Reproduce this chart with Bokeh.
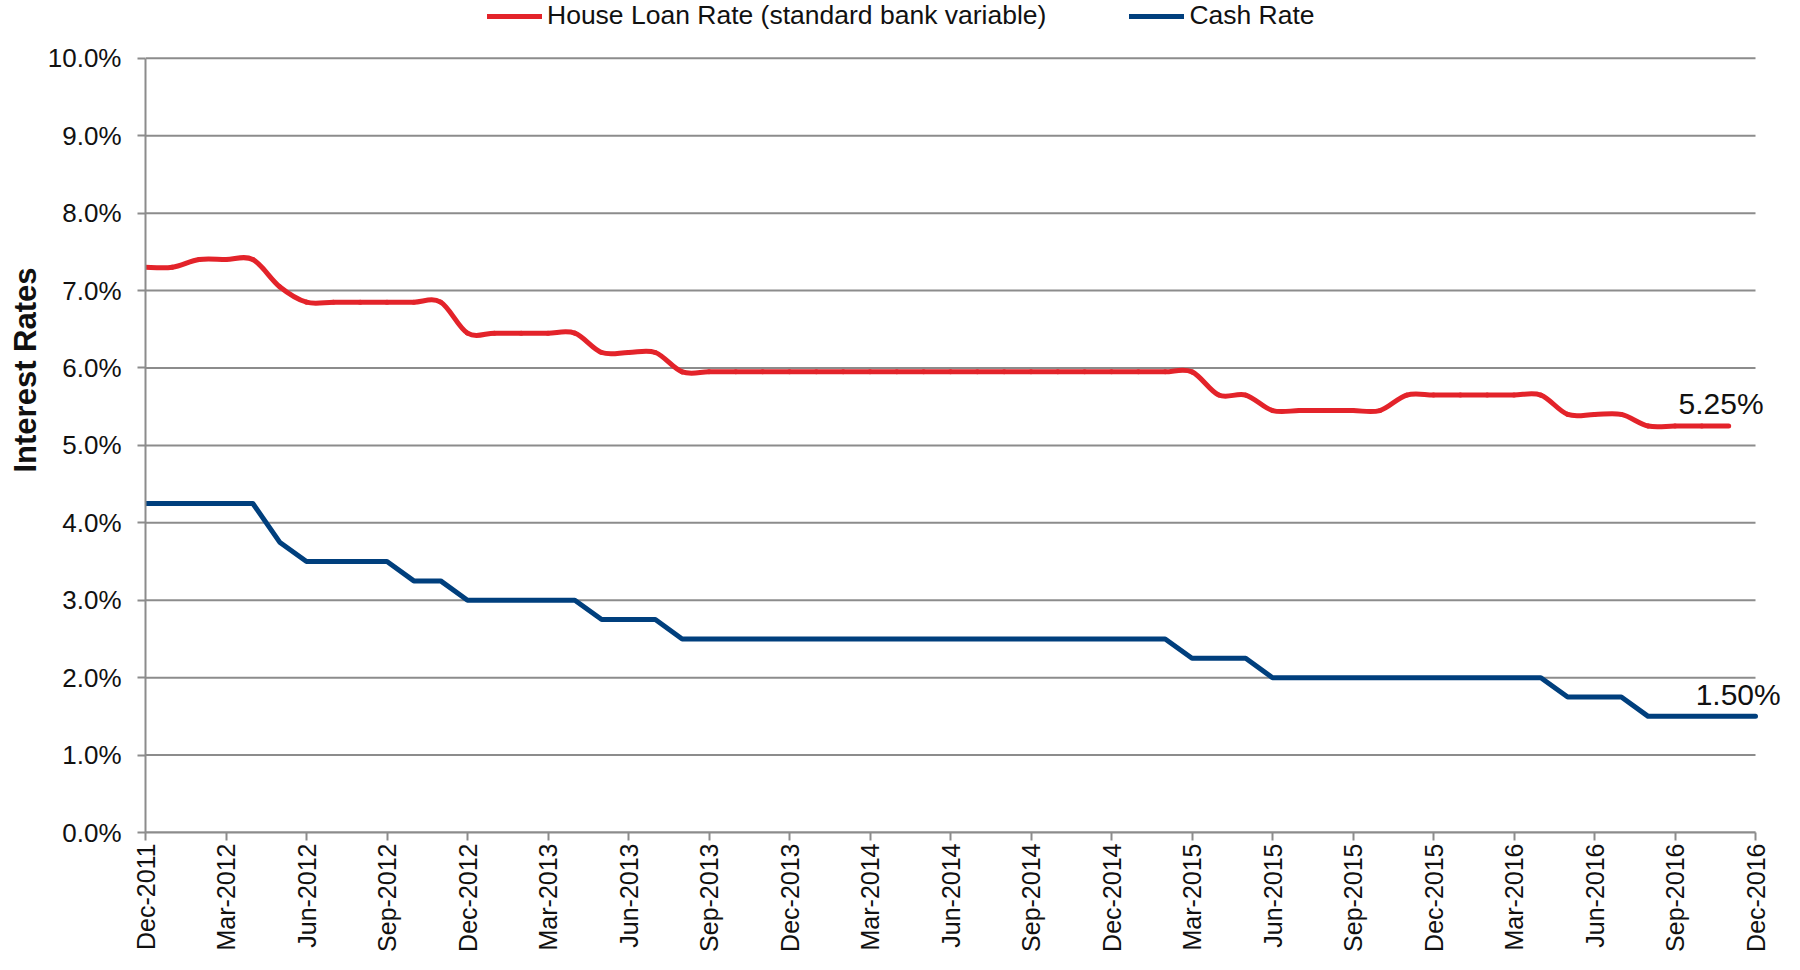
import math
from bokeh.plotting import figure
from bokeh.models import (ColumnDataSource, Range1d, FixedTicker, Legend,
                          LegendItem, Label, Title, PrintfTickFormatter)
from bokeh.embed import file_html
from bokeh.resources import INLINE

# ---------------- data ----------------
months = [
    "Dec-2011",
    "Jan-2012", "Feb-2012", "Mar-2012", "Apr-2012", "May-2012", "Jun-2012",
    "Jul-2012", "Aug-2012", "Sep-2012", "Oct-2012", "Nov-2012", "Dec-2012",
    "Jan-2013", "Feb-2013", "Mar-2013", "Apr-2013", "May-2013", "Jun-2013",
    "Jul-2013", "Aug-2013", "Sep-2013", "Oct-2013", "Nov-2013", "Dec-2013",
    "Jan-2014", "Feb-2014", "Mar-2014", "Apr-2014", "May-2014", "Jun-2014",
    "Jul-2014", "Aug-2014", "Sep-2014", "Oct-2014", "Nov-2014", "Dec-2014",
    "Jan-2015", "Feb-2015", "Mar-2015", "Apr-2015", "May-2015", "Jun-2015",
    "Jul-2015", "Aug-2015", "Sep-2015", "Oct-2015", "Nov-2015", "Dec-2015",
    "Jan-2016", "Feb-2016", "Mar-2016", "Apr-2016", "May-2016", "Jun-2016",
    "Jul-2016", "Aug-2016", "Sep-2016", "Oct-2016", "Nov-2016", "Dec-2016",
]

# House loan rate (standard bank variable), % — Dec-2011 .. Nov-2016
house_loan_rate = [
    7.30, 7.30, 7.40, 7.40, 7.40, 7.05, 6.85, 6.85, 6.85, 6.85,
    6.85, 6.85, 6.45, 6.45, 6.45, 6.45, 6.45, 6.20, 6.20, 6.20,
    5.95, 5.95, 5.95, 5.95, 5.95, 5.95, 5.95, 5.95, 5.95, 5.95,
    5.95, 5.95, 5.95, 5.95, 5.95, 5.95, 5.95, 5.95, 5.95, 5.95,
    5.65, 5.65, 5.45, 5.45, 5.45, 5.45, 5.45, 5.65, 5.65, 5.65,
    5.65, 5.65, 5.65, 5.40, 5.40, 5.40, 5.25, 5.25, 5.25, 5.25,
]

# Cash rate, % — Dec-2011 .. Dec-2016
cash_rate = [
    4.25, 4.25, 4.25, 4.25, 4.25, 3.75, 3.50, 3.50, 3.50, 3.50,
    3.25, 3.25, 3.00, 3.00, 3.00, 3.00, 3.00, 2.75, 2.75, 2.75,
    2.50, 2.50, 2.50, 2.50, 2.50, 2.50, 2.50, 2.50, 2.50, 2.50,
    2.50, 2.50, 2.50, 2.50, 2.50, 2.50, 2.50, 2.50, 2.50, 2.25,
    2.25, 2.25, 2.00, 2.00, 2.00, 2.00, 2.00, 2.00, 2.00, 2.00,
    2.00, 2.00, 2.00, 1.75, 1.75, 1.75, 1.50, 1.50, 1.50, 1.50,
    1.50,
]

series_names = ["House Loan Rate (standard bank variable)", "Cash Rate"]
end_labels = ["5.25%", "1.50%"]
y_ticks = [0, 1, 2, 3, 4, 5, 6, 7, 8, 9, 10]
y_title = "Interest  Rates"

RED = "#E3232A"
BLUE = "#003F7D"
GRID = "#8C8C8C"
INK = "#111111"
FONT = "Liberation Sans"

# ---------------- layout (pixels) ----------------
W, H = 1784, 954
LEFT, BOTTOM = 145, 119            # frame left edge / space under frame
AXIS_X_END_PX = 1755               # where the last month sits
AXIS_Y_TOP_PX = 58                 # where 10 % sits

x_first, x_last = 0, len(months) - 1
y_min, y_max = y_ticks[0], y_ticks[-1]
frame_w = W - LEFT
frame_h = H - BOTTOM
px_per_x = (AXIS_X_END_PX - LEFT) / (x_last - x_first)
px_per_y = (frame_h - AXIS_Y_TOP_PX) / (y_max - y_min)
x_end = x_last + (W - AXIS_X_END_PX) / px_per_x
y_end = y_max + AXIS_Y_TOP_PX / px_per_y


def smooth_source(ys):
    """Bezier segments through the data points (Excel style smoothed line)."""
    xs = list(range(len(ys)))
    n = len(ys)
    d = {k: [] for k in ("x0", "y0", "x1", "y1", "cx0", "cy0", "cx1", "cy1")}
    for i in range(n - 1):
        im, ip = max(i - 1, 0), min(i + 2, n - 1)
        d["x0"].append(xs[i]); d["y0"].append(ys[i])
        d["x1"].append(xs[i + 1]); d["y1"].append(ys[i + 1])
        d["cx0"].append(xs[i] + (xs[i + 1] - xs[im]) / 6.0)
        d["cy0"].append(ys[i] + (ys[i + 1] - ys[im]) / 6.0)
        d["cx1"].append(xs[i + 1] - (xs[ip] - xs[i]) / 6.0)
        d["cy1"].append(ys[i + 1] - (ys[ip] - ys[i]) / 6.0)
    return ColumnDataSource(d)


p = figure(width=W, height=H, output_backend="svg", toolbar_location=None,
           x_range=Range1d(x_first, x_end), y_range=Range1d(y_min, y_end),
           min_border_left=LEFT, min_border_right=0, min_border_top=0,
           min_border_bottom=BOTTOM)
p.outline_line_color = None
p.background_fill_color = "white"
p.border_fill_color = "white"
p.grid.visible = False

# horizontal gridlines, only across the data period
grid_src = ColumnDataSource(dict(x0=[x_first] * len(y_ticks),
                                 x1=[x_last] * len(y_ticks),
                                 y=y_ticks))
p.segment(x0="x0", x1="x1", y0="y", y1="y", source=grid_src,
          line_color=GRID, line_width=2)

# axes
p.xaxis.ticker = FixedTicker(ticks=list(range(x_first, len(months), 3)))
p.xaxis.major_label_overrides = {i: months[i] for i in range(x_first, len(months), 3)}
p.xaxis.major_label_orientation = math.pi / 2
p.xaxis.bounds = (x_first, x_last)
p.yaxis.ticker = FixedTicker(ticks=y_ticks)
p.yaxis.formatter = PrintfTickFormatter(format="%.1f%%")
p.yaxis.bounds = (y_min, y_max)
for ax in (p.xaxis[0], p.yaxis[0]):
    ax.axis_line_color = GRID
    ax.axis_line_width = 2
    ax.major_tick_line_color = GRID
    ax.major_tick_line_width = 2
    ax.major_tick_out = 8
    ax.major_tick_in = 0
    ax.minor_tick_line_color = None
    ax.major_label_text_font = FONT
    ax.major_label_text_color = INK
p.yaxis.major_label_text_font_size = "26px"
p.xaxis.major_label_text_font_size = "25px"
p.yaxis.major_label_standoff = 16
p.xaxis.major_label_standoff = 3

# series
red_src = smooth_source(house_loan_rate)
r_red = p.bezier(x0="x0", y0="y0", x1="x1", y1="y1", cx0="cx0", cy0="cy0",
                 cx1="cx1", cy1="cy1", source=red_src, line_color=RED,
                 line_width=5, line_cap="round")
blue_src = ColumnDataSource(dict(x=list(range(len(cash_rate))), y=cash_rate))
r_blue = p.line(x="x", y="y", source=blue_src, line_color=BLUE, line_width=5,
                line_join="round", line_cap="round")

# legend (top, centred)
legend = Legend(items=[LegendItem(label=series_names[0], renderers=[r_red]),
                       LegendItem(label=series_names[1], renderers=[r_blue])],
                orientation="horizontal", location=(487 - LEFT, frame_h - 34),
                label_text_font=FONT, label_text_font_size="26.5px",
                label_text_color=INK,
                glyph_width=55, glyph_height=26, label_height=26,
                label_standoff=5, spacing=83, padding=0, margin=0,
                border_line_color=None, background_fill_alpha=0)
p.add_layout(legend, "center")

# y axis title (left side, raised above centre like the original)
p.add_layout(Title(text=y_title, align="left", offset=frame_h - 475,
                   text_font=FONT, text_font_size="31px",
                   text_font_style="bold", text_color=INK, standoff=4),
             "left")

# end-value labels
p.add_layout(Label(x=57.13, y=5.535, text=end_labels[0], text_font=FONT,
                   text_font_size="30px", text_color=INK,
                   text_baseline="alphabetic"))
p.add_layout(Label(x=57.77, y=1.785, text=end_labels[1], text_font=FONT,
                   text_font_size="30px", text_color=INK,
                   text_baseline="alphabetic"))

open("out.html", "w").write(file_html(p, INLINE))
